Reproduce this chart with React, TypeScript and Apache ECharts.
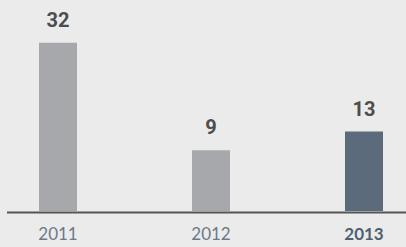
import React, { useEffect, useRef } from "react";
import * as echarts from "echarts";

const categories = ["2011", "2012", "2013"];
const values = [32, 9, 13];
const barColors = ["#a7a8ab", "#a7a8ab", "#5b6b7b"];
const highlightIndex = 2;

export default function App() {
  const ref = useRef<HTMLDivElement>(null);
  useEffect(() => {
    if (!ref.current) return;
    const chart = echarts.init(ref.current, null, { renderer: "svg" });
    chart.setOption({
      animation: false,
      backgroundColor: "#ebebeb",
      grid: {
        left: -18.5,
        right: -34.5,
        top: 24,
        bottom: 36,
        outerBoundsMode: "none",
        containLabel: false,
      },
      xAxis: {
        type: "category",
        data: categories,
        axisLine: { show: false },
        axisTick: { show: false },
        axisLabel: {
          margin: 14,
          formatter: (v: string, i: number) => (i === highlightIndex ? `{b|${v}}` : `{a|${v}}`),
          rich: {
            a: { fontFamily: "Lato", fontSize: 17, color: "#6b7988", fontWeight: 400 },
            b: { fontFamily: "Lato", fontSize: 17, color: "#4f5f6f", fontWeight: 700 },
          },
        },
      },
      yAxis: {
        type: "value",
        min: -4,
        max: 36,
        startValue: -4,
        show: false,
        splitLine: { show: false },
      },
      series: [
        {
          type: "bar",
          barWidth: 38,
          data: values.map((v, i) => ({ value: v, itemStyle: { color: barColors[i] } })),
          label: {
            show: true,
            position: "top",
            distance: 13,
            fontFamily: "Roboto",
            fontWeight: 700,
            fontSize: 20,
            color: "#4d4d4d",
          },
        },
      ],
      graphic: [
        {
          type: "line",
          shape: { x1: 7, y1: 212.5, x2: 406, y2: 212.5 },
          style: { stroke: "#555555", lineWidth: 2 },
          z: 10,
        },
      ],
    });
    return () => chart.dispose();
  }, []);
  return (
    <div
      ref={ref}
      style={{ position: "fixed", left: 0, top: 0, width: 406, height: 247 }}
    />
  );
}
